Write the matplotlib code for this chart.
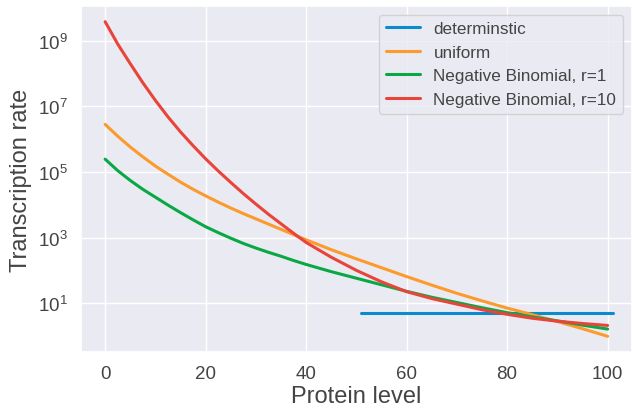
import numpy as np
import matplotlib
matplotlib.use('Agg')
import matplotlib.pyplot as plt
import matplotlib.ticker as ticker
import seaborn as sns

sns.set_theme(style='darkgrid')
plt.rcParams['font.family'] = ['Liberation Sans', 'DejaVu Sans']

protein = [0, 2.5, 5, 7.5, 10, 12.5, 15, 17.5, 20, 22.5, 25, 27.5, 30, 32.5, 35, 37.5, 40,
           45, 50, 55, 60, 65, 70, 75, 80, 85, 90, 95, 100]

# log10 of transcription rate for each model
log_uniform = [6.45, 6.09, 5.76, 5.46, 5.18, 4.93, 4.69, 4.47, 4.27, 4.08, 3.90, 3.73, 3.57,
               3.41, 3.25, 3.09, 2.93,
               2.63, 2.35, 2.08, 1.81, 1.55, 1.30, 1.07, 0.85, 0.65, 0.44, 0.22, -0.01]
log_nb_r1 = [5.39, 5.04, 4.74, 4.47, 4.23, 3.99, 3.76, 3.54, 3.33, 3.15, 2.98, 2.82, 2.68,
             2.55, 2.43, 2.30, 2.18,
             1.96, 1.76, 1.56, 1.36, 1.18, 1.02, 0.86, 0.71, 0.58, 0.46, 0.33, 0.21]
log_nb_r10 = [9.58, 8.90, 8.30, 7.72, 7.18, 6.68, 6.22, 5.80, 5.40, 5.03, 4.68, 4.34, 4.02,
              3.71, 3.42, 3.13, 2.85,
              2.40, 2.00, 1.65, 1.35, 1.14, 0.97, 0.80, 0.66, 0.54, 0.45, 0.38, 0.32]

# deterministic model: flat rate over the upper range
det_x = [51, 101]
det_y = [5, 5]

fig = plt.figure(figsize=(6.33, 4.10), dpi=100)
ax = fig.add_subplot(1, 1, 1)
fig.subplots_adjust(left=0.128, right=0.998, top=0.983, bottom=0.139)

lw = 2.2
ax.plot(det_x, det_y, color='#0b8bce', lw=lw, label='determinstic')
ax.plot(protein, 10 ** np.array(log_uniform), color='#fc9a2c', lw=lw, label='uniform')
ax.plot(protein, 10 ** np.array(log_nb_r1), color='#0aa845', lw=lw, label='Negative Binomial, r=1')
ax.plot(protein, 10 ** np.array(log_nb_r10), color='#e8443a', lw=lw, label='Negative Binomial, r=10')

ax.set_yscale('log')
ax.yaxis.set_major_locator(ticker.FixedLocator([1e1, 1e3, 1e5, 1e7, 1e9]))
ax.yaxis.set_major_formatter(ticker.LogFormatterSciNotation())
ax.yaxis.set_minor_locator(ticker.NullLocator())
ax.set_xticks([0, 20, 40, 60, 80, 100])
ax.set_xlim(-4.8, 104.8)

ax.tick_params(labelsize=13.5, colors='#444444')
ax.set_xlabel('Protein level', fontsize=17, color='#444444', labelpad=2)
ax.set_ylabel('Transcription rate', fontsize=17, color='#444444')

ax.legend(loc='upper right', fontsize=12.3, labelcolor='#444444')

fig.savefig('out.png', dpi=100)
